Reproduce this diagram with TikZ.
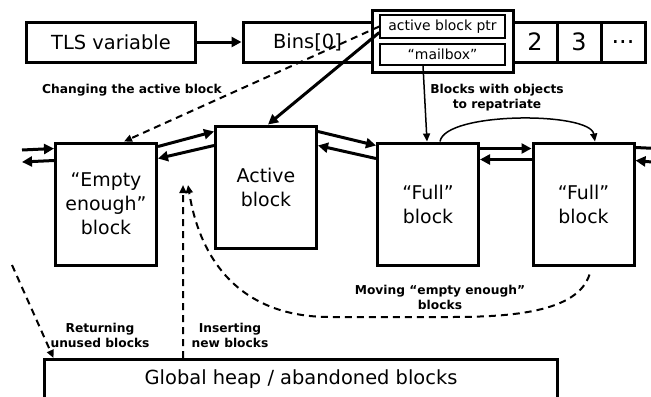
\documentclass[tikz,border=0pt]{standalone}
\usepackage{fontspec}
\setmainfont{DejaVu Sans}
\usetikzlibrary{arrows.meta}

\begin{document}
\begin{tikzpicture}[x=1bp,y=-1bp,
    slot/.style={draw,line width=3bp,minimum height=40bp,inner sep=0pt,font=\fontsize{19.5}{23}\selectfont},
    field/.style={draw,line width=1.5bp,minimum width=125bp,inner sep=0pt,font=\fontsize{14}{16}\selectfont},
    blk/.style={draw,line width=3bp,minimum width=101bp,minimum height=122bp,inner sep=0pt,align=center,font=\fontsize{19}{24}\selectfont},
    note/.style={align=center,inner sep=0pt,font=\bfseries\fontsize{12.3}{15}\selectfont},
    link/.style={line width=3bp,-{Triangle[length=10bp,width=10bp]}},
    thinlink/.style={line width=1.5bp,-{Triangle[length=8bp,width=7bp]}},
    dashlink/.style={line width=2bp,dash pattern=on 7bp off 5bp,-{Triangle[length=8bp,width=7bp]}}]
  \useasboundingbox (0,0) rectangle (651,396);
  \clip (0,0) rectangle (651,396);

  % bins row
  \node[slot,minimum width=168bp] (tls) at (111,42) {TLS variable};
  \node[slot,minimum width=129bp] (bins0) at (307.5,42) {Bins[0]};
  \node[draw,line width=3bp,minimum width=141bp,minimum height=62bp] (binbox) at (442.5,41) {};
  \node[field,minimum height=23bp] (ptr) at (442.5,26.5) {active block ptr};
  \node[field,minimum height=21bp] (mailbox) at (442.5,54.5) {“mailbox”};
  \node[slot,minimum width=44bp,font=\fontsize{24}{26}\selectfont] (bin2) at (535,42) {2};
  \node[slot,minimum width=44bp,font=\fontsize{24}{26}\selectfont] (bin3) at (579,42) {3};
  \node[slot,minimum width=44bp,font=\fontsize{24}{26}\selectfont] (binmore) at (623,42) {...};
  \draw[link] (tls) -- (bins0);

  % blocks
  \node[blk] (empty) at (106,204) {“Empty\\enough”\\block};
  \node[blk] (active) at (266,187) {Active\\block};
  \node[blk] (full1) at (428,204) {“Full”\\block};
  \node[blk] (full2) at (583.5,204) {“Full”\\block};
  \node[draw,line width=3bp,minimum width=512bp,minimum height=40bp,anchor=north,font=\fontsize{19.5}{23}\selectfont] (heap) at (301,358) {Global heap / abandoned blocks};

  \coordinate (leftin) at (22,150);
  \coordinate (leftout) at (22,162);
  \coordinate (rightout) at (668,149);
  \coordinate (rightin) at (652,162);
  \coordinate (movetip) at (188,185);
  \coordinate (inserttip) at (183,185);
  \coordinate (retstart) at (12,265);

  % list links
  \draw[link] (leftin) -- ([yshift=-7bp]empty.north west);
  \draw[link] ([yshift=-19bp]empty.north west) -- (leftout);
  \draw[link] ([yshift=-5bp]empty.north east) -- ([yshift=-7bp]active.north west);
  \draw[link] ([yshift=-21bp]active.north west) -- ([yshift=-17bp]empty.north east);
  \draw[link] ([yshift=-7bp]active.north east) -- ([yshift=-4bp]full1.north west);
  \draw[link] ([yshift=-17bp]full1.north west) -- ([yshift=-21bp]active.north east);
  \draw[link] ([yshift=-7bp]full1.north east) -- ([yshift=-7bp]full2.north west);
  \draw[link] ([yshift=-18bp]full2.north west) -- ([yshift=-18bp]full1.north east);
  \draw[link] ([yshift=-6bp]full2.north east) -- (rightout);
  \draw[link] (rightin) -- ([yshift=-19bp]full2.north east);

  % pointers from the bin
  \draw[link] ([yshift=-6bp]ptr.west) -- ([xshift=2bp]active.north);
  \draw[dashlink] (ptr.west) -- ([xshift=18bp]empty.north);
  \node[note] (changelbl) at (132,90) {Changing the active block};
  \draw[thinlink] ([xshift=-19.5bp]mailbox.south) -- ([xshift=-1bp]full1.north);
  \node[note] (repatlbl) at (497,98) {Blocks with objects\\to repatriate};
  \draw[thinlink] ([xshift=12bp]full1.north) .. controls +(5,-30) and +(-5,-30) .. ([xshift=11.5bp]full2.north);

  % moving and heap traffic
  \draw[dashlink] ([xshift=6bp,yshift=-8bp]full2.south) .. controls +(-12,38) and +(60,0) .. (450,317)
    -- (330,317) .. controls +(-90,0) and +(12,75) .. (movetip);
  \node[note] (movelbl) at (440,297) {Moving “empty enough”\\blocks};
  \draw[dashlink] (retstart) -- ([xshift=10bp]heap.north west);
  \node[note] (retlbl) at (100,335) {Returning\\unused blocks};
  \draw[dashlink] ([xshift=-118bp]heap.north) -- (inserttip);
  \node[note] (insertlbl) at (230,335) {Inserting\\new blocks};
\end{tikzpicture}
\end{document}
